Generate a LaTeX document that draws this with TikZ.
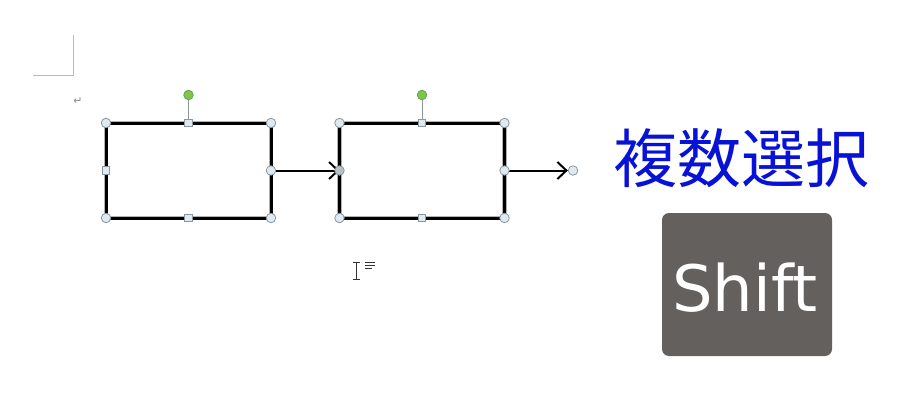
\documentclass[tikz,border=0pt]{standalone}
\usepackage{fontspec}
\newfontfamily\cjk{Noto Sans CJK JP}
\newfontfamily\dejavu{DejaVu Sans}
\usetikzlibrary{arrows.meta}
\definecolor{kblue}{RGB}{8,18,214}
\definecolor{kgray}{RGB}{99,96,93}
\definecolor{hfill}{RGB}{222,234,240}
\definecolor{hline}{RGB}{140,150,158}
\definecolor{gfill}{RGB}{130,196,70}
\tikzset{
  shapebox/.style={draw=black, line width=3.2pt, minimum width=165pt, minimum height=95pt, inner sep=0pt, outer sep=0pt},
  shapeedge/.style={draw=gray!60, line width=4.4pt},
  rhandle/.style={circle, draw=hline, fill=hfill, line width=0.8pt, minimum size=9.5pt, inner sep=0pt},
  shandle/.style={rectangle, draw=hline, fill=hfill, line width=0.8pt, minimum size=7.5pt, inner sep=0pt},
  ghandle/.style={circle, draw=gray!70!green, fill=gfill, line width=0.8pt, minimum size=9.5pt, inner sep=0pt},
  conn/.style={draw=black, line width=2pt, -{Straight Barb[length=9pt,width=17pt,line width=2pt]}},
  stem/.style={draw=hline, line width=1pt},
  marks/.style={draw=gray!55, line width=1pt}
}
\begin{document}
\begin{tikzpicture}[x=1pt,y=-1pt]
\useasboundingbox[fill=white] (0,0) rectangle (903,412);
% page corner mark
\coordinate (c1) at (73,35);
\coordinate (c2) at (73,76);
\coordinate (c3) at (33,76);
\draw[marks] (c1) -- (c2) -- (c3);
\node[text=gray!90, font=\dejavu\fontsize{11}{11}\selectfont] (ret) at (78,101) {↵};
% boxes
\node[shapebox] (b1) at (188.5,170.5) {};
\node[shapebox] (b2) at (422,170.5) {};
\draw[shapeedge] (b1.north west) rectangle (b1.south east);
\draw[shapeedge] (b2.north west) rectangle (b2.south east);
\draw[black, line width=3pt] (b1.north west) rectangle (b1.south east);
\draw[black, line width=3pt] (b2.north west) rectangle (b2.south east);
% rotation handles
\node[ghandle] (g1) at (188.5,95) {};
\node[ghandle] (g2) at (422,95) {};
\draw[stem] (g1) -- (b1.north);
\draw[stem] (g2) -- (b2.north);
% connector end
\node[rhandle] (hend) at (573,170.5) {};
% connectors
\draw[conn] (b1.east) -- (b2.west);
\draw[conn] (b2.east) -- (hend.west);
% handles box 1
\node[rhandle] (h1a) at (b1.north west) {};
\node[rhandle] (h1b) at (b1.north east) {};
\node[rhandle] (h1c) at (b1.south west) {};
\node[rhandle] (h1d) at (b1.south east) {};
\node[rhandle] (h1e) at (b1.east) {};
\node[shandle] (h1f) at (b1.north) {};
\node[shandle] (h1g) at (b1.south) {};
\node[shandle] (h1h) at (b1.west) {};
% handles box 2
\node[rhandle] (h2a) at (b2.north west) {};
\node[rhandle] (h2b) at (b2.north east) {};
\node[rhandle] (h2c) at (b2.south west) {};
\node[rhandle] (h2d) at (b2.south east) {};
\node[rhandle] (h2e) at (b2.east) {};
\node[rhandle, fill=hline!60] (h2w) at (b2.west) {};
\node[shandle] (h2f) at (b2.north) {};
\node[shandle] (h2g) at (b2.south) {};
% I-beam cursor
\coordinate (i1) at (356,262);
\coordinate (i2) at (356,279);
\draw[black!80, line width=1pt] (i1) -- (i2);
\draw[black!80, line width=0.8pt] (352.5,262) -- (359.5,262) (352.5,279) -- (359.5,279);
\draw[black!80, line width=0.8pt] (365,262) -- (375,262) (365,265) -- (375,265) (365,268) -- (372,268);
% title
\node[text=kblue, font=\cjk\fontsize{64}{70}\selectfont, inner sep=0pt] (title) at (741,158) {複数選択};
% shift key
\node[fill=kgray, rounded corners=7pt, minimum width=170pt, minimum height=143pt, inner sep=0pt] (key) at (747,284.5) {};
\node[text=white, font=\dejavu\fontsize{64}{70}\selectfont, inner sep=0pt] (shift) at (745,288) {Shift};
\end{tikzpicture}
\end{document}
